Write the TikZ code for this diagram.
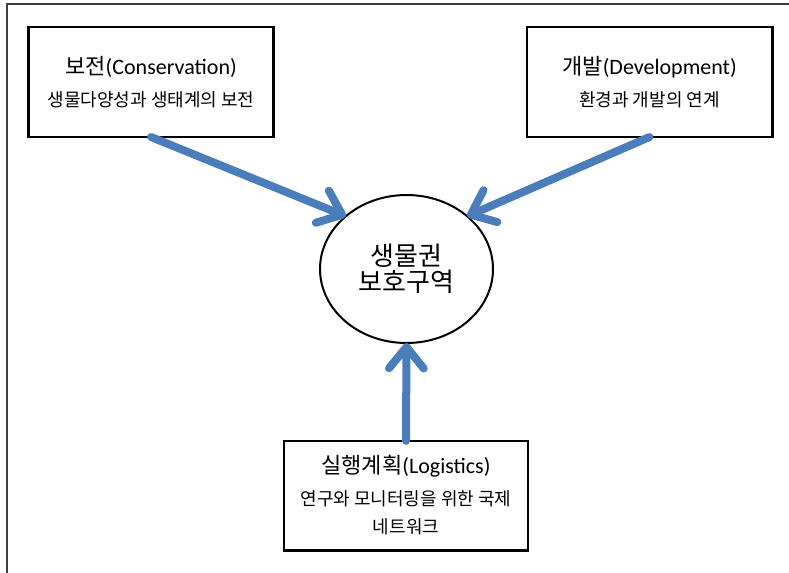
\documentclass[tikz,border=0pt]{standalone}
\usepackage{fontspec}
\setmainfont{Noto Sans CJK KR}
\newfontfamily\latfont{Carlito}
\usepackage{xcolor}
\usepackage{tikz}
\usetikzlibrary{arrows.meta,shapes.geometric,positioning}

\definecolor{arrowblue}{HTML}{4A7EBB}
\definecolor{framegray}{HTML}{3F3F3F}

\newcommand{\boxtitle}[2]{\fontsize{16.5}{21}\selectfont #1{\latfont #2}}

\begin{document}
\begin{tikzpicture}[
			x=0.75pt,y=-0.75pt,
			every node/.style={inner sep=0pt,outer sep=0pt},
			zonebox/.style={draw=black,line width=2pt,rectangle,align=center,
				font=\fontsize{13.5}{21}\selectfont,
				minimum width=184pt,minimum height=82.5pt},
			flow/.style={draw=arrowblue,line width=6pt,line cap=round,
				-{Straight Barb[length=16pt,width=26pt,round]}}
			]
			\useasboundingbox (0,0) rectangle (789,572);

			% outer frame, cut by the page
			\draw[framegray,line width=1.1pt] (7,4) rectangle (820,600);

			\node[draw=black,line width=1.5pt,ellipse,align=center,
				font=\fontsize{19.5}{19.5}\selectfont,
				minimum width=129.75pt,minimum height=111pt] (reserve) at (406.5,269)
				{생물권\\보호구역};

			\node[zonebox] (cons) at (151,82)
				{\boxtitle{보전}{(Conservation)}\\[3pt]생물다양성과 생태계의 보전};
			\node[zonebox] (devel) at (649.5,82)
				{\boxtitle{개발}{(Development)}\\[3pt]환경과 개발의 연계};
			\node[zonebox,minimum width=183pt,minimum height=82pt] (logis) at (406,495.5)
				{\boxtitle{실행계획}{(Logistics)}\\[3pt]연구와 모니터링을 위한 국제\\네트워크};

			\draw[flow] (cons.south) -- (reserve.139);
			\draw[flow] (devel.south) -- (reserve.41);
			\draw[flow] (logis.north) -- (reserve.south);

			\end{tikzpicture}
\end{document}
